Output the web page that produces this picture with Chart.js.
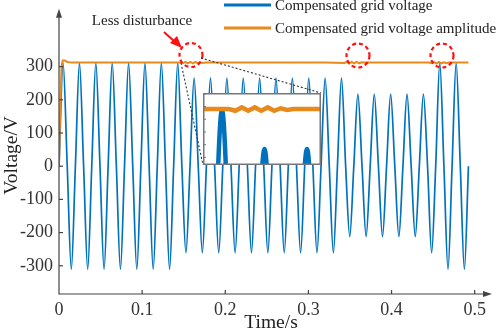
<!DOCTYPE html>
<html>
<head>
<script src="https://cdn.jsdelivr.net/npm/chart.js"></script>
<style>
  body { margin: 0; background: #fff; }
  #wrap { position: relative; width: 498px; height: 335px; }
  #main { position: absolute; left: 0; top: 0; }
  #zoom { position: absolute; left: 203px; top: 93px; }
</style>
</head>
<body>
<div id="wrap">
  <canvas id="main" width="498" height="335"></canvas>
  <canvas id="zoom" width="118" height="72"></canvas>
</div>
<script>
// grid voltage: zero crossings and peaks
const waveTime = [
  0, 0.0049, 0.0099, 0.0148, 0.0197, 0.0246, 0.0296, 0.0345, 0.0394, 0.0443,
  0.0493, 0.0542, 0.0591, 0.0640, 0.0690, 0.0739, 0.0788, 0.0837, 0.0887, 0.0936,
  0.0985, 0.1034, 0.1084, 0.1133, 0.1182, 0.1231, 0.1281, 0.1330, 0.1379, 0.1428,
  0.1478, 0.1527, 0.1576, 0.1625, 0.1675, 0.1724, 0.1773, 0.1822, 0.1872, 0.1921,
  0.1970, 0.2019, 0.2069, 0.2118, 0.2167, 0.2216, 0.2266, 0.2315, 0.2364, 0.2413,
  0.2463, 0.2512, 0.2561, 0.2610, 0.2660, 0.2709, 0.2758, 0.2807, 0.2857, 0.2906,
  0.2955, 0.3004, 0.3054, 0.3103, 0.3152, 0.3201, 0.3251, 0.3300, 0.3349, 0.3398,
  0.3448, 0.3497, 0.3546, 0.3595, 0.3645, 0.3694, 0.3743, 0.3792, 0.3842, 0.3891,
  0.3940, 0.3989, 0.4039, 0.4088, 0.4137, 0.4186, 0.4236, 0.4285, 0.4334, 0.4383,
  0.4433, 0.4482, 0.4531, 0.4580, 0.4630, 0.4679, 0.4728, 0.4777, 0.4827, 0.4876,
  0.4925
];
const waveVolt = [
  0, 311, 0, -311, 0, 311, 0, -311, 0, 311,
  0, -311, 0, 311, 0, -311, 0, 311, 0, -311,
  0, 311, 0, -311, 0, 311, 0, -311, 0, 311,
  0, -261, 0, 265, 0, -261, 0, 265, 0, -261,
  0, 265, 0, -261, 0, 265, 0, -261, 0, 265,
  0, -261, 0, 265, 0, -261, 0, 265, 0, -261,
  0, 265, 0, -261, 0, 265, 0, -261, 0, 265,
  0, -212, 0, 217, 0, -212, 0, 217, 0, -212,
  0, 217, 0, -212, 0, 217, 0, -212, 0, 217,
  0, -261, 0, 311, 0, -311, 0, 311, 0, -311,
  0
];

// amplitude estimate
const ampTime = [0, 0.0015, 0.003, 0.0045, 0.007, 0.01, 0.015,
  0.03, 0.06, 0.09, 0.12,
  0.146, 0.149, 0.152, 0.155, 0.158, 0.161, 0.164, 0.167, 0.170, 0.173, 0.176,
  0.2, 0.24, 0.28, 0.32,
  0.343, 0.346, 0.349, 0.352, 0.355, 0.358, 0.361, 0.364, 0.367,
  0.39, 0.42,
  0.445, 0.448, 0.451, 0.454, 0.457, 0.460, 0.463, 0.466, 0.469,
  0.48, 0.4925];
const ampVolt = [0, 170, 300, 318, 318, 314, 312,
  312.5, 312, 312.5, 312,
  312, 310, 314, 310, 314, 310, 314, 310, 313, 311, 312,
  312, 312.5, 312, 312,
  311, 314, 309, 314, 310, 314, 310, 313, 312,
  312, 312.5,
  312, 310, 314, 309, 314, 310, 313, 310, 312,
  312, 312];

const xTicks = [0, 0.1, 0.2, 0.3, 0.4, 0.5];
const yTicks = [-300, -200, -100, 0, 100, 200, 300];
const seriesNames = ["Compensated grid voltage", "Compensated grid voltage amplitude"];
const seriesColors = ["#0072BD", "#E8891B"];

const serif = "Liberation Serif";
const pts = (xs, ys) => xs.map((x, i) => ({ x: x, y: ys[i] }));

// axis lines with arrows and inward ticks
const axesPlugin = {
  id: "axes",
  afterDatasetsDraw(chart) {
    const c = chart.ctx, a = chart.chartArea;
    const xs = chart.scales.x, ys = chart.scales.y;
    c.save();
    c.strokeStyle = "#444"; c.fillStyle = "#444"; c.lineWidth = 1.2;
    c.beginPath();
    c.moveTo(a.left, a.top); c.lineTo(a.left, a.bottom); c.lineTo(a.right + 2, a.bottom);
    c.stroke();
    xTicks.slice(1).forEach(v => {
      const px = xs.getPixelForValue(v);
      c.beginPath(); c.moveTo(px, a.bottom); c.lineTo(px, a.bottom - 4); c.stroke();
    });
    yTicks.forEach(v => {
      const py = ys.getPixelForValue(v);
      c.beginPath(); c.moveTo(a.left, py); c.lineTo(a.left + 4, py); c.stroke();
    });
    c.beginPath();
    c.moveTo(a.right + 9, a.bottom); c.lineTo(a.right, a.bottom - 3); c.lineTo(a.right, a.bottom + 3);
    c.closePath(); c.fill();
    c.beginPath();
    c.moveTo(a.left, a.top - 8); c.lineTo(a.left - 3, a.top + 1); c.lineTo(a.left + 3, a.top + 1);
    c.closePath(); c.fill();
    c.restore();
  }
};

// legend, note, circles, zoom guides
const notesPlugin = {
  id: "notes",
  afterDraw(chart) {
    const c = chart.ctx;
    c.save();
    // legend
    c.font = "15px " + serif;
    c.textBaseline = "middle";
    c.fillStyle = "#222";
    [5, 28].forEach((y, i) => {
      c.strokeStyle = seriesColors[i]; c.lineWidth = 3;
      c.beginPath(); c.moveTo(224, y); c.lineTo(271, y); c.stroke();
      c.fillText(seriesNames[i], 275, y + 1);
    });
    c.textAlign = "center";
    c.fillText("Less disturbance", 142, 21);

    // arrow
    c.strokeStyle = "#FF1010"; c.fillStyle = "#FF1010"; c.lineWidth = 2;
    c.beginPath(); c.moveTo(164, 32); c.lineTo(175, 42); c.stroke();
    c.beginPath(); c.moveTo(182, 48); c.lineTo(170, 43); c.lineTo(177, 36); c.closePath(); c.fill();

    // dashed circles
    c.lineWidth = 2.2; c.setLineDash([4, 3]);
    [[191, 55], [358, 55.5], [442, 55.5]].forEach(p => {
      c.beginPath(); c.ellipse(p[0], p[1], 11.5, 12, 0, 0, Math.PI * 2); c.stroke();
    });

    // guides to the zoom box
    c.strokeStyle = "#333"; c.lineWidth = 1.1; c.setLineDash([2, 2]);
    c.beginPath(); c.moveTo(201, 58); c.lineTo(321, 93); c.stroke();
    c.beginPath(); c.moveTo(181, 63); c.lineTo(203, 165); c.stroke();
    c.restore();
  }
};

new Chart(document.getElementById("main"), {
  type: "line",
  data: {
    datasets: [
      { label: seriesNames[0], data: pts(waveTime, waveVolt), borderColor: seriesColors[0],
        borderWidth: 1.7, pointRadius: 0, cubicInterpolationMode: "monotone", order: 1 },
      { label: seriesNames[1], data: pts(ampTime, ampVolt), borderColor: seriesColors[1],
        borderWidth: 2, pointRadius: 0, tension: 0, order: 0 }
    ]
  },
  options: {
    responsive: false,
    animation: false,
    layout: { padding: { top: 8, right: 15, left: 0, bottom: 0 } },
    plugins: { legend: { display: false }, tooltip: { enabled: false } },
    scales: {
      x: {
        type: "linear", min: 0, max: 0.51,
        afterBuildTicks: s => { s.ticks = xTicks.map(v => ({ value: v })); },
        afterFit: s => { s.height = 41; },
        grid: { display: false, drawTicks: false },
        border: { display: false },
        ticks: { font: { family: serif, size: 18 }, color: "#333", padding: 5, maxRotation: 0,
                 callback: v => String(v) },
        title: { display: true, text: "Time/s", font: { family: serif, size: 19.5 },
                 color: "#222", padding: 0 }
      },
      y: {
        min: -385, max: 450,
        afterBuildTicks: s => { s.ticks = yTicks.map(v => ({ value: v })); },
        afterFit: s => { s.width = 59; },
        grid: { display: false, drawTicks: false },
        border: { display: false },
        ticks: { font: { family: serif, size: 18 }, color: "#333", padding: 6,
                 callback: v => String(v) },
        title: { display: true, text: "Voltage/V", font: { family: serif, size: 19.5 },
                 color: "#222", padding: 0 }
      }
    }
  },
  plugins: [axesPlugin, notesPlugin]
});

// zoomed view around the first step change
const insetTicks = [255, 270, 285, 300, 315, 330];
const framePlugin = {
  id: "frame",
  beforeDraw(chart) {
    const c = chart.ctx;
    c.save(); c.fillStyle = "#fff"; c.fillRect(0, 0, chart.width, chart.height); c.restore();
  },
  afterDraw(chart) {
    const c = chart.ctx, ys = chart.scales.y;
    c.save();
    c.strokeStyle = "#777"; c.lineWidth = 1.5;
    c.strokeRect(0.75, 0.75, chart.width - 1.5, chart.height - 1.5);
    c.lineWidth = 1;
    insetTicks.forEach(v => {
      const py = ys.getPixelForValue(v);
      c.beginPath(); c.moveTo(1, py); c.lineTo(3, py); c.stroke();
    });
    c.restore();
  }
};

new Chart(document.getElementById("zoom"), {
  type: "line",
  data: {
    datasets: [
      { data: pts(waveTime, waveVolt), borderColor: seriesColors[0], borderWidth: 4.5,
        pointRadius: 0, cubicInterpolationMode: "monotone", order: 1 },
      { data: pts(ampTime, ampVolt), borderColor: seriesColors[1], borderWidth: 4.5,
        pointRadius: 0, tension: 0, order: 0 }
    ]
  },
  options: {
    responsive: false,
    animation: false,
    layout: { padding: 0 },
    plugins: { legend: { display: false }, tooltip: { enabled: false } },
    scales: {
      x: { type: "linear", min: 0.134, max: 0.1887, display: false },
      y: { min: 246, max: 331, display: false }
    }
  },
  plugins: [framePlugin]
});
</script>
</body>
</html>
